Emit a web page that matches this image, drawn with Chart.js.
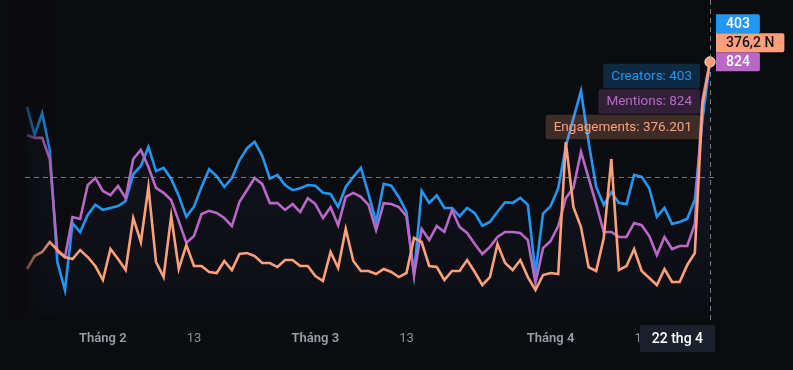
<!DOCTYPE html>
<html>
<head>
<meta charset="utf-8">
<script src="https://cdn.jsdelivr.net/npm/chart.js@4.4.1/dist/chart.umd.min.js"></script>
<style>
  html, body { margin: 0; padding: 0; background: #0b0c0f; }
  #chart { display: block; }
</style>
</head>
<body>
<canvas id="chart" width="793" height="370"></canvas>
<script>
// ngày đầu tiên của chuỗi, mỗi điểm là một ngày
const startDate = '2023-01-22';
const dayCount = 91;

const creators = [332, 288, 322, 264, 88, 44, 149, 135, 162, 178,
    170, 173, 176, 184, 226, 239, 269, 231, 236, 219,
    192, 159, 175, 206, 234, 223, 206, 220, 248, 267,
    277, 255, 219, 225, 209, 201, 204, 209, 208, 197,
    195, 175, 206, 222, 236, 195, 151, 211, 208, 190,
    167, 69, 200, 181, 193, 173, 173, 160, 173, 165,
    145, 151, 167, 182, 181, 189, 178, 71, 164, 176,
    204, 270, 314, 357, 277, 206, 178, 198, 181, 179,
    225, 222, 204, 159, 173, 148, 151, 156, 186, 311,
    403];

const mentions = [589, 580, 580, 512, 213, 196, 325, 319, 428, 451,
    409, 396, 425, 386, 512, 541, 486, 419, 403, 380,
    312, 242, 264, 335, 345, 338, 322, 296, 374, 412,
    451, 431, 370, 370, 348, 367, 341, 386, 367, 322,
    357, 299, 390, 403, 390, 364, 283, 370, 367, 357,
    328, 138, 287, 251, 296, 277, 348, 293, 274, 238,
    206, 229, 261, 277, 277, 274, 251, 113, 225, 248,
    296, 386, 419, 535, 451, 367, 277, 277, 261, 261,
    306, 299, 264, 203, 261, 222, 232, 232, 303, 702,
    824];

const engagements = [72000, 91100, 97000, 111700, 99900, 89600, 86700, 99900, 89600, 76400,
    55800, 101400, 86700, 70500, 147000, 111700, 192500, 82300, 60200, 149900,
    72000, 107300, 76400, 76400, 67600, 66100, 83800, 70500, 94000, 95500,
    91100, 80800, 80800, 74900, 85200, 85200, 76400, 76400, 61700, 54400,
    97000, 73500, 130800, 83800, 69100, 69100, 64700, 72000, 67600, 60200,
    66100, 117600, 111700, 76400, 74900, 55800, 69100, 69100, 85200, 67600,
    48500, 60200, 108700, 80800, 70500, 85200, 60200, 41100, 63200, 66100,
    64700, 258600, 163100, 133700, 74900, 69100, 117600, 233700, 70500, 76400,
    101400, 69100, 58800, 48500, 72000, 52900, 52900, 77900, 95500, 313000,
    376201];

const tickDates = ['2023-02-01', '2023-02-13', '2023-03-01', '2023-03-13', '2023-04-01', '2023-04-13'];
const tickTexts = ['Tháng 2', '13', 'Tháng 3', '13', 'Tháng 4', '13'];
const crosshairLabel = '22 thg 4';
const crosshairCreators = 221;

const BLUE = '#2196f3';
const PURPLE = '#ba68c8';
const ORANGE = '#ffa07a';
const FONT = 'Roboto, "Noto Sans", sans-serif';

const labels = [];
const d0 = new Date(startDate + 'T00:00:00Z');
for (let i = 0; i < dayCount; i++) {
    const d = new Date(d0.getTime() + i * 86400000);
    labels.push(d.toISOString().slice(0, 10));
}

function chamNghin(n) {
    return String(n).replace(/\B(?=(\d{3})+(?!\d))/g, '.');
}

const last = dayCount - 1;
const lastDot = labels.map((_, i) => i === last ? 5 : 0);

const overlay = {
    id: 'overlay',
    afterDatasetsDraw(chart) {
        const ctx = chart.ctx;
        const a = chart.chartArea;
        // mờ dần ở mép trái
        const g = ctx.createLinearGradient(6, 0, 56, 0);
        g.addColorStop(0, 'rgba(11,12,15,1)');
        g.addColorStop(1, 'rgba(11,12,15,0)');
        ctx.save();
        ctx.fillStyle = g;
        ctx.fillRect(0, a.top, 56, a.bottom - a.top + 4);
        ctx.restore();
    },
    afterDraw(chart) {
        const ctx = chart.ctx;
        const x = chart.scales.x.getPixelForValue(last);
        const hy = chart.scales.yC.getPixelForValue(crosshairCreators);
        const py = chart.scales.yC.getPixelForValue(creators[last]);

        ctx.save();
        ctx.strokeStyle = 'rgba(150,155,165,0.75)';
        ctx.lineWidth = 1;
        ctx.setLineDash([5, 4]);
        ctx.beginPath();
        ctx.moveTo(25, Math.round(hy) + 0.5);
        ctx.lineTo(716, Math.round(hy) + 0.5);
        ctx.moveTo(Math.round(x) + 0.5, 0);
        ctx.lineTo(Math.round(x) + 0.5, 324);
        ctx.stroke();
        ctx.setLineDash([]);

        // hộp giá trị bên trái đường dọc
        const rows = [
            { text: 'Creators: ' + chamNghin(creators[last]), color: BLUE, bg: 'rgba(33,150,243,0.22)' },
            { text: 'Mentions: ' + chamNghin(mentions[last]), color: PURPLE, bg: 'rgba(186,104,200,0.22)' },
            { text: 'Engagements: ' + chamNghin(engagements[last]), color: ORANGE, bg: 'rgba(255,160,122,0.22)' }
        ];
        ctx.font = '13.5px ' + FONT;
        ctx.textBaseline = 'middle';
        let top = py + 2;
        rows.forEach(r => {
            const w = ctx.measureText(r.text).width + 16;
            const right = x - 10;
            ctx.fillStyle = r.bg;
            ctx.beginPath();
            ctx.roundRect(right - w, top, w, 24.5, 2);
            ctx.fill();
            ctx.fillStyle = r.color;
            ctx.textAlign = 'left';
            ctx.fillText(r.text, right - w + 8, top + 12.5);
            top += 25.5;
        });

        // nhãn trên thang giá bên phải
        const tags = [
            { text: chamNghin(creators[last]), bg: BLUE, fg: '#ffffff' },
            { text: (engagements[last] / 1000).toFixed(1).replace('.', ',') + ' N', bg: ORANGE, fg: '#131313' },
            { text: chamNghin(mentions[last]), bg: PURPLE, fg: '#ffffff' }
        ];
        ctx.font = '500 14px ' + FONT;
        const h = 19;
        tags.forEach((t, i) => {
            const cy = py - (tags.length - 1 - i) * h;
            const w = ctx.measureText(t.text).width + 20;
            ctx.fillStyle = t.bg;
            ctx.beginPath();
            ctx.roundRect(716, cy - h / 2, w, h, [0, 2, 2, 0]);
            ctx.fill();
            ctx.fillStyle = t.fg;
            ctx.textAlign = 'center';
            ctx.fillText(t.text, 716 + w / 2, cy + 0.5);
        });

        // nhãn ngày của đường dọc
        ctx.font = '500 14px ' + FONT;
        const lw = ctx.measureText(crosshairLabel).width + 24;
        ctx.fillStyle = '#1c202d';
        ctx.fillRect(x + 5 - lw, 325, lw, 27);
        ctx.fillStyle = '#ffffff';
        ctx.textAlign = 'center';
        ctx.fillText(crosshairLabel, x + 5 - lw / 2, 339);
        ctx.restore();
    }
};

function areaFill(context) {
    const a = context.chart.chartArea;
    if (!a) return 'rgba(0,0,0,0)';
    const g = context.chart.ctx.createLinearGradient(0, a.top + 60, 0, a.bottom + 4);
    g.addColorStop(0, 'rgba(60,80,140,0.075)');
    g.addColorStop(1, 'rgba(60,80,140,0.01)');
    return g;
}

function makeSet(label, data, color, axis) {
    return {
        label: label,
        data: data,
        yAxisID: axis,
        borderColor: color,
        borderWidth: 2.6,
        backgroundColor: areaFill,
        fill: 'origin',
        pointRadius: lastDot,
        pointBackgroundColor: color,
        pointBorderColor: 'rgba(255,220,200,0.6)',
        pointBorderWidth: 1,
        tension: 0
    };
}

new Chart(document.getElementById('chart'), {
    type: 'line',
    data: {
        labels: labels,
        datasets: [
            makeSet('Engagements', engagements, ORANGE, 'yE'),
            makeSet('Mentions', mentions, PURPLE, 'yM'),
            makeSet('Creators', creators, BLUE, 'yC')
        ]
    },
    plugins: [overlay],
    options: {
        responsive: false,
        animation: false,
        layout: { autoPadding: false, padding: { left: 27, right: 83, top: 0, bottom: 0 } },
        plugins: {
            legend: { display: false },
            tooltip: { enabled: false },
            filler: { drawTime: 'beforeDatasetsDraw' }
        },
        scales: {
            x: {
                grid: { display: false, drawTicks: false },
                border: { display: false },
                afterFit: s => { s.height = 52; },
                ticks: {
                    autoSkip: false,
                    maxRotation: 0,
                    padding: 13,
                    callback: function (v, i) {
                        const k = tickDates.indexOf(labels[i]);
                        return k >= 0 ? tickTexts[k] : '';
                    },
                    font: ctx => {
                        const k = tickDates.indexOf(labels[ctx.index]);
                        const month = k >= 0 && tickTexts[k].startsWith('Tháng');
                        return { family: FONT, size: 13, weight: month ? '600' : '400' };
                    },
                    color: ctx => {
                        const k = tickDates.indexOf(labels[ctx.index]);
                        return k >= 0 && tickTexts[k].startsWith('Tháng') ? '#9a9ea7' : '#8a8e96';
                    }
                }
            },
            yC: { display: false, min: 0, max: 500 },
            yM: { display: false, min: 0, max: 1024 },
            yE: { display: false, min: 0, max: 467300 }
        }
    }
});
</script>
</body>
</html>
